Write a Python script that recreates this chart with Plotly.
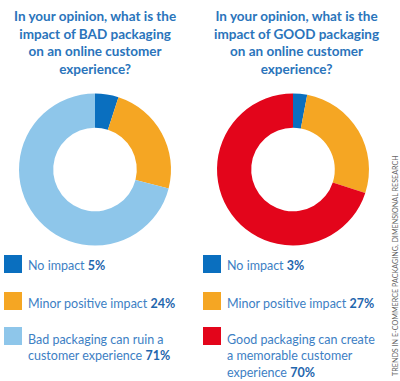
import plotly.graph_objects as go

titles = [
    "In your opinion, what is the<br>impact of BAD packaging<br>on an online customer<br>experience?",
    "In your opinion, what is the<br>impact of GOOD packaging<br>on an online customer<br>experience?",
]
bad_labels = ["No impact", "Minor positive impact", "Bad packaging can ruin a<br>customer experience"]
bad_values = [5, 24, 71]
good_labels = ["No impact", "Minor positive impact", "Good packaging can create<br>a memorable customer<br>experience"]
good_values = [3, 27, 70]
bad_colors = ["#0a6fbf", "#f5a623", "#8ec6ea"]
good_colors = ["#0a6fbf", "#f5a623", "#e3051b"]
source = "TRENDS IN E-COMMERCE PACKAGING, DIMENSIONAL RESEARCH"

W, H = 400, 381
fig = go.Figure()

def px(x):
    return x / W

def py(y):
    return 1 - y / H

pies = [
    (bad_labels, bad_values, bad_colors, (19, 171)),
    (good_labels, good_values, good_colors, (217, 369)),
]
for labels, values, colors, (x0, x1) in pies:
    fig.add_trace(go.Pie(
        labels=[l.replace("<br>", " ") for l in labels], values=values,
        marker=dict(colors=colors, line=dict(width=0)),
        hole=0.55, sort=False, direction="clockwise", rotation=0,
        textinfo="none", hoverinfo="label+percent", showlegend=False,
        domain=dict(x=[px(x0), px(x1)], y=[py(246), py(93)]),
    ))

title_font = dict(family="Lato, Open Sans, sans-serif", size=13.5, color="#2a74bb")
for i, (t, cx) in enumerate(zip(titles, [95, 296])):
    fig.add_annotation(
        text="<b>" + t + "</b>", x=px(cx), y=py(6), xref="paper", yref="paper",
        xanchor="center", yanchor="top", showarrow=False, align="center",
        font=title_font,
    )

legend_font = dict(family="Lato, Open Sans, sans-serif", size=12.5, color="#3d80c4")
sq_tops = [255, 292, 327]
text_tops = [256, 294, 330]
for (labels, values, colors, _), sx in zip(pies, [4, 203]):
    for lab, val, col, top, tt in zip(labels, values, colors, sq_tops, text_tops):
        fig.add_shape(type="rect", xref="paper", yref="paper",
                      x0=px(sx), x1=px(sx + 18), y0=py(top + 18), y1=py(top),
                      fillcolor=col, line=dict(width=0))
        fig.add_annotation(
            text=f"{lab} <b><span style='color:#1f66ad'>{val}%</span></b>",
            x=px(sx + 22), y=py(tt), xref="paper", yref="paper",
            xanchor="left", yanchor="top", showarrow=False, align="left",
            font=legend_font,
        )

fig.add_annotation(
    text=source, x=px(395), y=py(266), xref="paper", yref="paper",
    xanchor="center", yanchor="middle", showarrow=False, textangle=-90,
    font=dict(family="Lato, Open Sans, sans-serif", size=7.2, color="#666666"),
)

fig.update_layout(
    width=W, height=H, margin=dict(l=0, r=0, t=0, b=0),
    paper_bgcolor="white", plot_bgcolor="white",
)
fig.write_html("out.html", config={"displayModeBar": False},
               post_script="document.body.style.margin='0px';")
